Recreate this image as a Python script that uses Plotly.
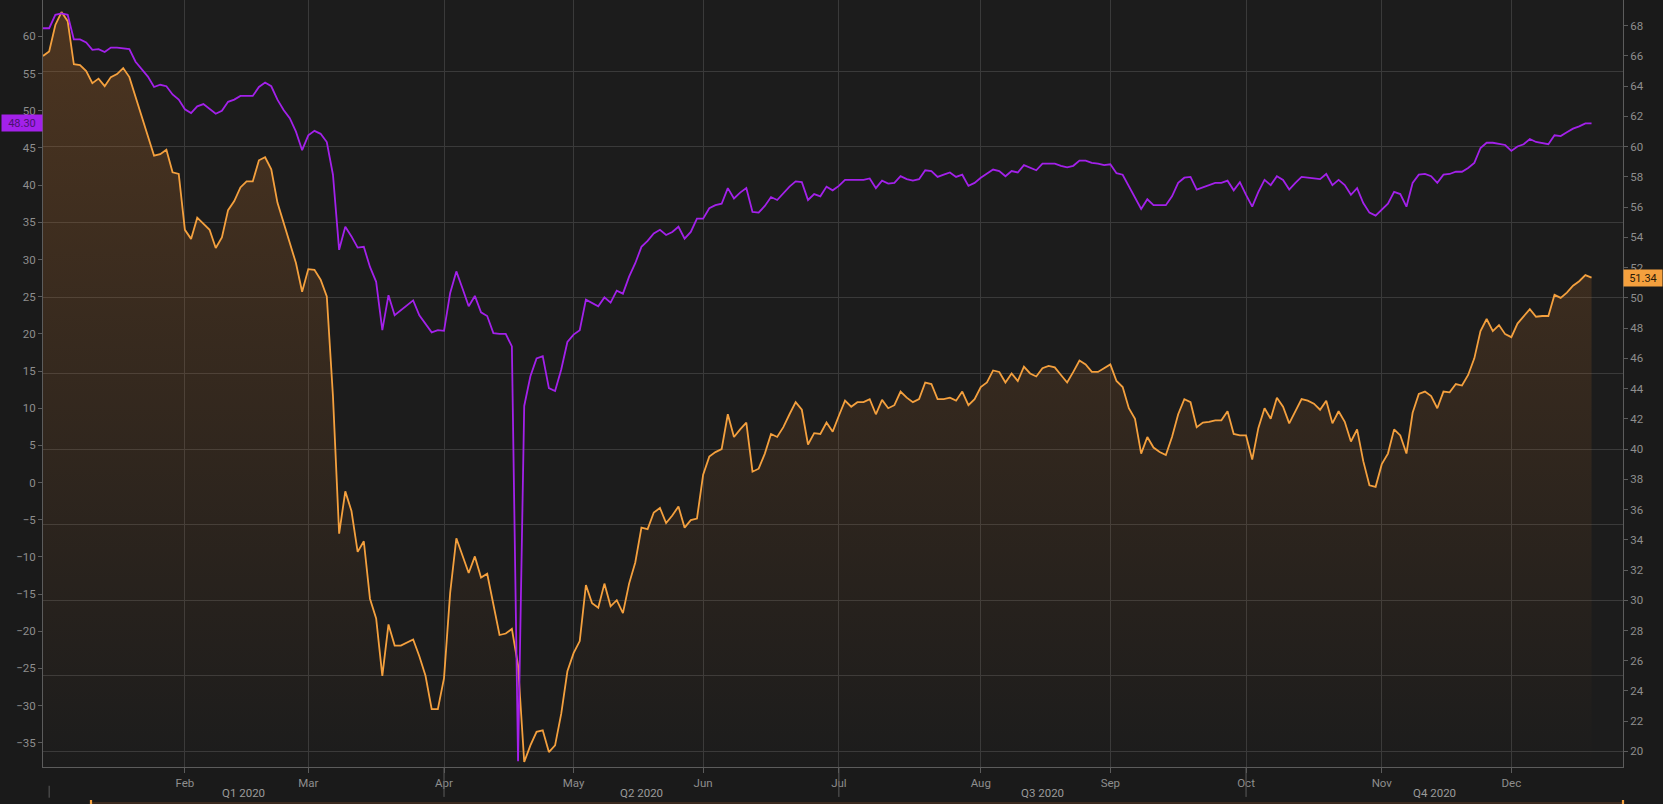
import pandas as pd
import plotly.graph_objects as go

# ---------------- data ----------------
# trading days of 2020 shown on the chart (weekdays, Good Friday removed)
dates = [d for d in pd.bdate_range("2020-01-01", "2020-12-18") if d != pd.Timestamp("2020-04-10")]
date_labels = [d.strftime("%Y-%m-%d") for d in dates]

# purple series (left axis)
purple_values = [
    61.1, 61.1, 62.9, 63.1, 62.9, 59.6, 59.6, 59.2, 58.2, 58.3,
    57.9, 58.5, 58.5, 58.4, 58.3, 56.6, 55.6, 54.6, 53.2, 53.5,
    53.3, 52.2, 51.5, 50.2, 49.7, 50.6, 50.9, 50.2, 49.6, 50.0,
    51.2, 51.5, 52.0, 52.0, 52.0, 53.2, 53.8, 53.3, 51.5, 50.1,
    49.0, 47.2, 44.7, 46.7, 47.3, 46.9, 45.8, 41.4, 31.3, 34.4,
    33.1, 31.6, 31.7, 29.0, 27.0, 20.5, 25.2, 22.5, 23.2, 23.9,
    24.5, 22.5, 21.4, 20.2, 20.5, 20.4, 25.5, 28.4, 26.1, 23.7,
    25.1, 22.9, 22.4, 20.1, 20.0, 20.0, 18.3, -37.5, 10.3, 14.3,
    16.7, 17.0, 12.7, 12.3, 15.2, 18.9, 19.9, 20.5, 24.6, 24.1,
    23.7, 24.9, 24.2, 25.8, 25.4, 27.7, 29.5, 31.7, 32.5, 33.5,
    34.0, 33.3, 33.7, 34.4, 32.8, 33.7, 35.5, 35.5, 36.9, 37.3,
    37.5, 39.6, 38.2, 39.0, 39.6, 36.4, 36.3, 37.2, 38.4, 38.0,
    38.9, 39.8, 40.5, 40.4, 38.0, 38.8, 38.5, 39.8, 39.3, 39.9,
    40.7, 40.7, 40.7, 40.7, 40.9, 39.6, 40.6, 40.2, 40.3, 41.2,
    40.8, 40.6, 40.8, 42.0, 41.9, 41.1, 41.4, 41.7, 41.1, 41.4,
    39.9, 40.3, 41.0, 41.6, 42.1, 41.9, 41.2, 41.9, 41.7, 42.7,
    42.3, 42.0, 42.9, 42.9, 42.9, 42.6, 42.4, 42.6, 43.3, 43.3,
    43.0, 42.9, 42.7, 42.8, 41.6, 41.4, 39.8, 38.3, 36.8, 38.1,
    37.3, 37.3, 37.3, 38.5, 40.3, 41.0, 41.1, 39.4, 39.7, 39.9,
    40.3, 40.3, 40.6, 39.3, 40.4, 38.7, 37.1, 39.1, 40.7, 40.0,
    41.2, 40.7, 39.4, 40.3, 41.1, 41.0, 40.9, 40.8, 41.5, 40.0,
    40.7, 40.0, 38.7, 39.6, 37.6, 36.3, 35.9, 36.7, 37.5, 39.1,
    38.8, 37.1, 40.3, 41.4, 41.5, 41.2, 40.3, 41.4, 41.5, 41.8,
    41.8, 42.3, 43.0, 45.0, 45.7, 45.7, 45.6, 45.4, 44.6, 45.2,
    45.5, 46.2, 45.8, 45.6, 45.5, 46.7, 46.6, 47.1, 47.6, 47.9,
    48.3, 48.30,
]

# orange series (right axis)
orange_values = [
    66.0, 66.3, 68.05, 68.9, 68.3, 65.45, 65.4, 65.0, 64.2, 64.5,
    64.0, 64.6, 64.8, 65.2, 64.6, 63.3, 62.0, 60.7, 59.4, 59.5,
    59.8, 58.3, 58.2, 54.5, 53.9, 55.3, 54.9, 54.5, 53.3, 54.0,
    55.8, 56.4, 57.3, 57.7, 57.7, 59.1, 59.3, 58.5, 56.3, 55.0,
    53.65, 52.3, 50.4, 51.9, 51.85, 51.2, 50.1, 43.5, 34.4, 37.2,
    35.9, 33.2, 33.9, 30.1, 28.8, 25.0, 28.4, 27.0, 27.0, 27.2,
    27.4, 26.3, 25.0, 22.8, 22.8, 24.85, 30.5, 34.1, 33.0, 31.8,
    32.9, 31.5, 31.75, 29.7, 27.7, 27.8, 28.1, 25.7, 19.3, 20.4,
    21.3, 21.4, 19.96, 20.4, 22.5, 25.3, 26.5, 27.3, 31.0, 29.8,
    29.5, 31.1, 29.6, 30.0, 29.15, 31.1, 32.5, 34.8, 34.7, 35.8,
    36.1, 35.1, 35.6, 36.2, 34.8, 35.3, 35.4, 38.3, 39.5, 39.8,
    40.0, 42.3, 40.8, 41.3, 41.75, 38.5, 38.7, 39.7, 41.0, 40.8,
    41.45, 42.3, 43.1, 42.6, 40.3, 41.05, 41.0, 41.75, 41.15, 42.2,
    43.2, 42.8, 43.1, 43.1, 43.3, 42.3, 43.25, 42.7, 42.9, 43.8,
    43.4, 43.1, 43.3, 44.4, 44.3, 43.3, 43.3, 43.4, 43.2, 43.8,
    42.9, 43.3, 44.1, 44.4, 45.2, 45.1, 44.4, 45.0, 44.5, 45.45,
    45.0, 44.8, 45.35, 45.5, 45.4, 44.9, 44.4, 45.1, 45.85, 45.6,
    45.1, 45.1, 45.35, 45.6, 44.5, 44.1, 42.7, 42.0, 39.7, 40.8,
    40.1, 39.8, 39.6, 40.8, 42.3, 43.3, 43.1, 41.45, 41.75, 41.8,
    41.9, 41.9, 42.5, 41.0, 40.9, 40.9, 39.3, 41.4, 42.7, 42.0,
    43.4, 42.8, 41.7, 42.5, 43.3, 43.2, 43.0, 42.6, 43.2, 41.7,
    42.5, 41.8, 40.5, 41.3, 39.2, 37.6, 37.5, 39.0, 39.7, 41.3,
    40.9, 39.7, 42.4, 43.65, 43.8, 43.5, 42.7, 43.8, 43.75, 44.3,
    44.2, 44.9, 46.0, 47.8, 48.6, 47.8, 48.2, 47.6, 47.4, 48.3,
    48.8, 49.25, 48.75, 48.8, 48.8, 50.2, 50.0, 50.35, 50.8, 51.1,
    51.5, 51.34,
]

month_names = ["Feb", "Mar", "Apr", "May", "Jun", "Jul", "Aug", "Sep", "Oct", "Nov", "Dec"]
quarter_names = ["Q1 2020", "Q2 2020", "Q3 2020", "Q4 2020"]

# ---------------- derived tick positions ----------------
month_first = {}
for i, d in enumerate(dates):
    month_first.setdefault(d.month, i)
month_tickvals = [date_labels[month_first[m]] for m in range(2, 13)]

q_start_idx = [date_labels.index("2020-01-02"), month_first[4], month_first[7], month_first[10]]
X_RANGE = [0, 256.1]
q_label_bounds = [0, month_first[4], month_first[7], month_first[10], X_RANGE[1]]
q_centers = [(q_label_bounds[k] + q_label_bounds[k + 1]) / 2 for k in range(4)]

LEFT_RANGE = [-38.26, 64.9]
RIGHT_RANGE = [18.97, 69.7]

PURPLE = "#a321ea"
ORANGE = "#f4a03e"
TXT = "#8e8e8e"
GRID = "#3a3a3a"
AXL = "#5c5c5c"
FONT = "Roboto"

fig = go.Figure()

fig.add_trace(go.Scatter(
    x=date_labels, y=orange_values, yaxis="y", mode="lines",
    line=dict(color=ORANGE, width=1.8),
    fill="tozeroy",
    fillgradient=dict(
        type="vertical", start=RIGHT_RANGE[0], stop=RIGHT_RANGE[1],
        colorscale=[[0, "rgba(192,112,42,0.0)"], [0.4, "rgba(192,112,42,0.12)"],
                    [1, "rgba(192,112,42,0.30)"]],
    ),
    hoverinfo="skip", showlegend=False,
))

fig.add_trace(go.Scatter(
    x=date_labels, y=purple_values, yaxis="y2", mode="lines",
    line=dict(color=PURPLE, width=1.8),
    hoverinfo="skip", showlegend=False,
))

# invisible trace to carry the gridline axis
fig.add_trace(go.Scatter(x=[date_labels[0]], y=[None], yaxis="y3", mode="lines",
                         showlegend=False, hoverinfo="skip"))

shapes = []
# long quarter ticks (Apr, Jul, Oct)
for k in range(1, 4):
    shapes.append(dict(type="line", xref="x", yref="paper",
                       x0=q_start_idx[k], x1=q_start_idx[k], y0=0, y1=-0.039,
                       line=dict(color=AXL, width=1)))
# Q1 separator
shapes.append(dict(type="line", xref="x", yref="paper",
                   x0=q_start_idx[0], x1=q_start_idx[0], y0=-0.0245, y1=-0.040,
                   line=dict(color=AXL, width=1)))
# navigator strip at the very bottom
shapes.append(dict(type="rect", xref="paper", yref="paper",
                   x0=(91 - 43) / 1580, x1=1.0, y0=-0.0455, y1=-0.0485,
                   fillcolor="#3a2a1f", line=dict(width=0)))
for xp in [(91 - 43) / 1580, 1.0]:
    shapes.append(dict(type="rect", xref="paper", yref="paper",
                       x0=xp - 0.0007, x1=xp + 0.0007, y0=-0.043, y1=-0.0485,
                       fillcolor=ORANGE, line=dict(width=0)))

annotations = []
for name, cx in zip(quarter_names, q_centers):
    annotations.append(dict(text=name, x=cx, xref="x", y=-0.034, yref="paper",
                            showarrow=False, xanchor="center", yanchor="middle",
                            font=dict(family=FONT, size=11.5, color="#9a9a9a")))

annotations.append(dict(text=f"{purple_values[-1]:.2f}", x=0, xref="paper",
                        y=purple_values[-1], yref="y2", xanchor="right", yanchor="middle",
                        showarrow=False, bgcolor=PURPLE, borderpad=1, width=38, height=14,
                        font=dict(family=FONT, size=11, color="#4a1370")))
annotations.append(dict(text=f"{orange_values[-1]:.2f}", x=1, xref="paper",
                        y=orange_values[-1], yref="y", xanchor="left", yanchor="middle",
                        showarrow=False, bgcolor=ORANGE, borderpad=1, width=36, height=14,
                        font=dict(family=FONT, size=11, color="#2a1a08")))

fig.update_layout(
    width=1663, height=804,
    margin=dict(l=43, r=40, t=0, b=37, pad=0),
    paper_bgcolor="#1a1a1a",
    plot_bgcolor="#1c1c1c",
    font=dict(family=FONT, size=11, color=TXT),
    showlegend=False,
    xaxis=dict(
        type="category", categoryorder="array", categoryarray=date_labels,
        range=X_RANGE, tickmode="array", tickvals=month_tickvals, ticktext=month_names,
        showgrid=True, gridcolor=GRID, gridwidth=1,
        showline=True, linecolor=AXL, linewidth=1,
        ticks="outside", ticklen=5, tickcolor=AXL,
        tickfont=dict(family=FONT, size=11.5, color=TXT),
        zeroline=False, fixedrange=True,
    ),
    yaxis=dict(
        side="right", range=RIGHT_RANGE, tick0=0, dtick=2,
        showgrid=False, zeroline=False,
        showline=True, linecolor=AXL, linewidth=1,
        ticks="outside", ticklen=4, tickcolor=AXL,
        tickfont=dict(family=FONT, size=11.5, color=TXT),
    ),
    yaxis2=dict(
        side="left", overlaying="y", range=LEFT_RANGE, tick0=0, dtick=5,
        showgrid=False, zeroline=False,
        showline=True, linecolor=AXL, linewidth=1,
        ticks="outside", ticklen=4, tickcolor=AXL,
        tickfont=dict(family=FONT, size=11.5, color=TXT),
    ),
    yaxis3=dict(
        overlaying="y", range=RIGHT_RANGE, tick0=0, dtick=5,
        showgrid=True, gridcolor=GRID, gridwidth=1,
        showticklabels=False, ticks="", showline=False, zeroline=False,
    ),
    shapes=shapes,
    annotations=annotations,
)

fig.write_html(
    "out.html",
    config={"displayModeBar": False},
    post_script=(
        "document.documentElement.style.margin='0';"
        "document.body.style.margin='0';"
        "document.body.style.padding='0';"
        "document.body.style.overflow='hidden';"
        "document.body.style.background='#1a1a1a';"
    ),
)
